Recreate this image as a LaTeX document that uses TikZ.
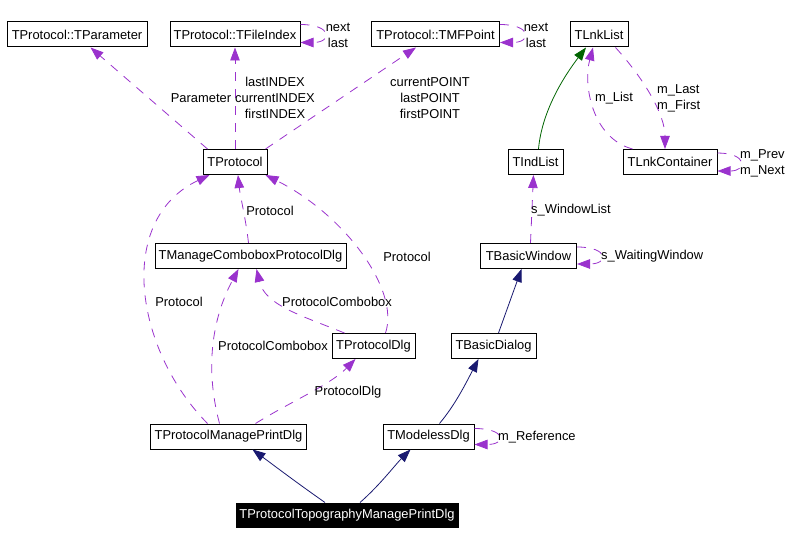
\documentclass[tikz,border=0pt]{standalone}
\usepackage{fontspec}
\setmainfont{Liberation Sans}
\usetikzlibrary{arrows.meta}
\definecolor{dep}{HTML}{9A32CD}
\definecolor{navy}{HTML}{191970}
\definecolor{gen}{HTML}{006400}
\tikzset{
  cls/.style={draw=black, line width=1pt, inner sep=0pt, minimum height=25pt, font=\fontsize{12.9}{16}\selectfont},
  lbl/.style={inner sep=0pt, font=\fontsize{12.9}{16}\selectfont, align=center},
  tip/.style={-{Triangle[length=13pt,width=9.5pt]}},
  depl/.style={tip, draw=dep, dash pattern=on 9pt off 8pt, line width=0.8pt},
  inhl/.style={tip, draw=navy, line width=0.8pt},
  genl/.style={tip, draw=gen, line width=0.8pt},
}
\begin{document}
\begin{tikzpicture}[x=1pt,y=-1pt]
\useasboundingbox (0,0) rectangle (790,545);
% classes
\node[cls, minimum width=140pt] (tpar) at (77,34.5) {TProtocol::TParameter};
\node[cls, minimum width=130pt] (tfi) at (235,34.5) {TProtocol::TFileIndex};
\node[cls, minimum width=128pt] (tmf) at (435.5,34.5) {TProtocol::TMFPoint};
\node[cls, minimum width=58pt] (tlnk) at (599,34.5) {TLnkList};
\node[cls, minimum width=64pt] (tprot) at (235,162) {TProtocol};
\node[cls, minimum width=55pt] (tind) at (535.5,162) {TIndList};
\node[cls, minimum width=94pt] (tcont) at (670,162) {TLnkContainer};
\node[cls, minimum width=191pt] (tmcb) at (250.5,256) {TManageComboboxProtocolDlg};
\node[cls, minimum width=96pt] (tbw) at (528.5,256) {TBasicWindow};
\node[cls, minimum width=83pt] (tpd) at (373.5,346) {TProtocolDlg};
\node[cls, minimum width=85pt] (tbd) at (493.5,346) {TBasicDialog};
\node[cls, minimum width=156pt] (tpmp) at (228.5,436.5) {TProtocolManagePrintDlg};
\node[cls, minimum width=91pt] (tmod) at (428.5,436.5) {TModelessDlg};
\node[cls, minimum width=222pt, minimum height=24pt, fill=black, text=white] (ttop) at (347,515) {TProtocolTopographyManagePrintDlg};

% TProtocol usage edges
\draw[depl] ([xshift=5pt]tprot.north west) -- ([xshift=84pt]tpar.south west);
\node[lbl] (lpar) at (201,98) {Parameter};
\draw[depl] (tprot.north) -- (tfi.south);
\node[lbl] (lidx) at (275,98) {lastINDEX\\currentINDEX\\firstINDEX};
\draw[depl] ([xshift=-2pt]tprot.north east) -- ([xshift=-19.5pt]tmf.south);
\node[lbl] (lpt) at (430,98) {currentPOINT\\lastPOINT\\firstPOINT};

% self loops top
\draw[depl] ([yshift=-3pt]tfi.north east) .. controls +(32,0) and +(32,0) .. ([yshift=5pt]tfi.south east);
\node[lbl] (lfi) at (338,35) {next\\last};
\draw[depl] ([yshift=-3pt]tmf.north east) .. controls +(32,0) and +(32,0) .. ([yshift=5pt]tmf.south east);
\node[lbl] (lmf) at (536,35) {next\\last};

% TLnkList group
\draw[genl] ([xshift=3pt]tind.north) .. controls (542,110) and (565,75) .. ([xshift=-13pt]tlnk.south);
\draw[depl] ([xshift=10pt]tcont.north west) .. controls (592,138) and (583,85) .. ([xshift=-6pt]tlnk.south);
\node[lbl] (llist) at (614,98) {m\_List};
\draw[depl] ([xshift=-13pt]tlnk.south east) .. controls (645,80) and (665,115) .. ([xshift=-5pt]tcont.north);
\node[lbl, anchor=west, align=left] (llast) at (657,98) {m\_Last\\m\_First};
\draw[depl] ([yshift=-4pt]tcont.north east) .. controls +(30,0) and +(30,0) .. ([yshift=4pt]tcont.south east);
\node[lbl, anchor=west, align=left] (lcont) at (740,163) {m\_Prev\\m\_Next};

% TBasicWindow
\draw[depl] ([xshift=2pt]tbw.north) -- ([xshift=-2pt]tind.south);
\node[lbl] (lwl) at (571,210) {s\_WindowList};
\draw[depl] ([yshift=-4pt]tbw.north east) .. controls +(32,0) and +(32,0) .. ([yshift=5pt]tbw.south east);
\node[lbl, anchor=west] (lww) at (601,256) {s\_WaitingWindow};

% Protocol edges
\draw[depl] ([xshift=-2pt]tmcb.north) .. controls (246,220) and (240,195) .. ([xshift=3pt]tprot.south);
\node[lbl] (lp1) at (270,211) {Protocol};
\draw[depl] ([xshift=12pt]tpd.north) .. controls (400,290) and (345,215) .. ([xshift=-2pt]tprot.south east);
\node[lbl] (lp2) at (407,257) {Protocol};
\draw[depl] ([xshift=-21pt]tpmp.north) .. controls (135,350) and (115,220) .. ([xshift=7pt]tprot.south west);
\node[lbl] (lp3) at (179,302) {Protocol};
\draw[depl] ([xshift=-9pt]tpmp.north) .. controls (200,350) and (222,300) .. ([xshift=-12pt]tmcb.south);
\node[lbl] (lpc1) at (273,346) {ProtocolCombobox};
\draw[depl] ([xshift=-29pt]tpd.north) .. controls (300,315) and (265,305) .. ([xshift=6pt]tmcb.south);
\node[lbl] (lpc2) at (337,302) {ProtocolCombobox};
\draw[depl] ([xshift=27pt]tpmp.north) .. controls (290,402) and (330,385) .. ([xshift=-18pt]tpd.south);
\node[lbl] (lpd) at (348,392) {ProtocolDlg};

% inheritance
\draw[inhl] ([xshift=5pt]tbd.north) -- ([xshift=-7pt]tbw.south);
\draw[inhl] ([xshift=11pt]tmod.north) .. controls (455,405) and (465,385) .. ([xshift=-15pt]tbd.south);
\draw[depl] ([yshift=-5pt]tmod.north east) .. controls +(32,0) and +(32,0) .. ([yshift=5pt]tmod.south east);
\node[lbl, anchor=west] (lref) at (498,437) {m\_Reference};
\draw[inhl] ([xshift=-22pt]ttop.north) .. controls (300,485) and (280,470) .. ([xshift=24pt]tpmp.south);
\draw[inhl] ([xshift=13pt]ttop.north) .. controls (380,485) and (395,465) .. ([xshift=-18pt]tmod.south);
\end{tikzpicture}
\end{document}
